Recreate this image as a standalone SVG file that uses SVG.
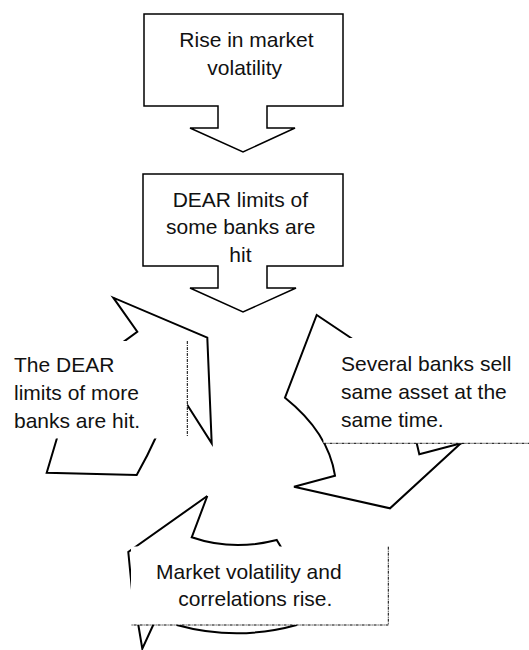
<svg xmlns="http://www.w3.org/2000/svg" width="529" height="650" viewBox="0 0 529 650">
<style>
.t{font-family:"Liberation Sans",Arial,sans-serif;font-size:21px;fill:#111}
.box{fill:#fff;stroke:#000;stroke-width:1.5;stroke-linejoin:miter}
.arc{fill:none;stroke:#000;stroke-width:2;stroke-linejoin:miter}
.cover{fill:#fff;stroke:none}
.dot{fill:none;stroke:#000;stroke-width:1;stroke-dasharray:3 1 1 1}
</style>
<rect width="529" height="650" fill="#fff"/>
<g id="connectors">
  <!-- left curved arrow -->
  <polyline class="arc" points="120,344.4 137.3,331.7 113.3,297.7 207.3,337.7 211.7,443.3 180,393.5"/>
  <path class="arc" d="M57.6,436 L46.7,472.7 L136.7,475 Q148,455 156.5,436"/>
  <!-- right curved arrow -->
  <path class="arc" d="M360,344 L316.7,315 L285,397.7 Q328.5,432.5 335,475.7 L294,486.7 L390,508.3 L466,438.5"/>
  <polyline class="arc" points="415.5,438 419.3,454.3 466,442"/>
  <!-- bottom curved arrow -->
  <polyline class="arc" points="207.3,496 128.3,552 132,590"/>
  <path class="arc" d="M207.3,496 L191.7,537.3 Q232.4,551.4 276.7,540 L284,552"/>
  <polyline class="arc" points="137.5,620 142.3,648.7 155.5,620"/>
  <path class="arc" d="M176.7,625 Q236.7,641.6 296.7,625"/>
</g>
<g id="node-rise">
  <path class="box" d="M144,14 H343 V106 H267 V128 H295 L243,152 L190,128 H218 V106 H144 Z"/>
  <text class="t" x="179.3" y="47.3">Rise in market</text>
  <text class="t" x="207.3" y="74.8">volatility</text>
</g>
<g id="node-dear">
  <path class="box" d="M143,174 H343 V266 H267 V288 H296 L243,312 L190,288 H218 V266 H143 Z"/>
  <text class="t" x="172.7" y="206.7">DEAR limits of</text>
  <text class="t" x="166" y="234.2">some banks are</text>
  <text class="t" x="229.3" y="261.7">hit</text>
</g>
<g id="node-more">
  <rect class="cover" x="0" y="341" width="187.3" height="97.5"/>
  <line class="dot" x1="187.3" y1="341" x2="187.3" y2="437"/>
  <text class="t" x="14" y="371.7">The DEAR</text>
  <text class="t" x="14" y="399.7">limits of more</text>
  <text class="t" x="14" y="427.7">banks are hit.</text>
</g>
<g id="node-sell">
  <rect class="cover" x="323.5" y="338" width="206" height="105.3"/>
  <line class="dot" x1="323.5" y1="443.3" x2="529" y2="443.3"/>
  <text class="t" x="341" y="370.7">Several banks sell</text>
  <text class="t" x="341" y="398.7">same asset at the</text>
  <text class="t" x="341" y="426.7">same time.</text>
</g>
<g id="node-corr">
  <rect class="cover" x="131" y="546.5" width="257.3" height="78.5"/>
  <polyline class="dot" points="388.3,546.7 388.3,625 131,625"/>
  <text class="t" x="156" y="579">Market volatility and</text>
  <text class="t" x="178.3" y="606">correlations rise.</text>
</g>
</svg>
